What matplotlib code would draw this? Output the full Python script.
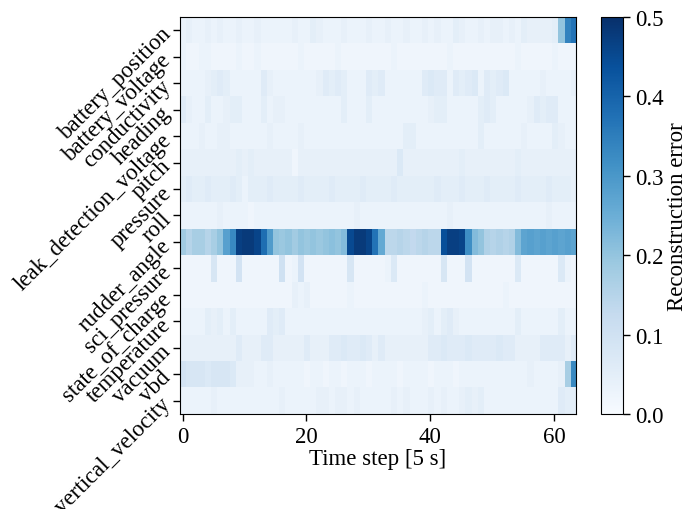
import matplotlib
matplotlib.use('Agg')
import matplotlib.pyplot as plt
import numpy as np

plt.rcParams['font.family'] = 'serif'
plt.rcParams['font.serif'] = ['Liberation Serif', 'DejaVu Serif']
plt.rcParams['font.size'] = 16.5

variables = [
    'battery_position', 'battery_voltage', 'conductivity', 'heading',
    'leak_detection_voltage', 'pitch', 'pressure', 'roll', 'rudder_angle',
    'sci_pressure', 'state_of_charge', 'temperature', 'vacuum', 'vbd',
    'vertical_velocity',
]

# reconstruction error per variable, one value per 5 s time step (64 steps)
battery_position = [
    0.03, 0.04, 0.03, 0.03, 0.04, 0.03, 0.04, 0.03, 0.03, 0.04, 0.03, 0.03, 0.04, 0.03, 0.03, 0.03,
    0.03, 0.03, 0.04, 0.03, 0.03, 0.05, 0.04, 0.03, 0.03, 0.03, 0.04, 0.03, 0.03, 0.03, 0.04, 0.03,
    0.03, 0.04, 0.03, 0.03, 0.04, 0.03, 0.03, 0.04, 0.03, 0.04, 0.03, 0.03, 0.05, 0.04, 0.03, 0.03,
    0.04, 0.03, 0.04, 0.04, 0.03, 0.04, 0.03, 0.05, 0.04, 0.04, 0.04, 0.04, 0.05, 0.20, 0.34, 0.37,
]
battery_voltage = [
    0.03, 0.02, 0.02, 0.03, 0.03, 0.02, 0.02, 0.02, 0.02, 0.03, 0.02, 0.02, 0.03, 0.02, 0.02, 0.02,
    0.02, 0.02, 0.02, 0.03, 0.02, 0.02, 0.02, 0.02, 0.02, 0.03, 0.02, 0.02, 0.02, 0.02, 0.02, 0.02,
    0.02, 0.02, 0.03, 0.02, 0.02, 0.02, 0.02, 0.02, 0.02, 0.02, 0.02, 0.03, 0.02, 0.02, 0.02, 0.02,
    0.02, 0.02, 0.02, 0.02, 0.02, 0.02, 0.03, 0.02, 0.02, 0.02, 0.02, 0.02, 0.03, 0.02, 0.02, 0.02,
]
conductivity = [
    0.03, 0.03, 0.03, 0.03, 0.04, 0.05, 0.06, 0.05, 0.03, 0.03, 0.03, 0.03, 0.03, 0.06, 0.04, 0.03,
    0.03, 0.03, 0.03, 0.03, 0.03, 0.03, 0.04, 0.06, 0.05, 0.06, 0.05, 0.03, 0.03, 0.03, 0.06, 0.05,
    0.06, 0.03, 0.03, 0.03, 0.03, 0.03, 0.03, 0.06, 0.07, 0.06, 0.06, 0.03, 0.06, 0.05, 0.06, 0.07,
    0.03, 0.06, 0.05, 0.06, 0.07, 0.03, 0.03, 0.03, 0.03, 0.03, 0.04, 0.03, 0.03, 0.03, 0.03, 0.04,
]
heading = [
    0.06, 0.04, 0.03, 0.03, 0.05, 0.03, 0.03, 0.04, 0.05, 0.05, 0.03, 0.03, 0.03, 0.05, 0.03, 0.04,
    0.04, 0.03, 0.03, 0.03, 0.03, 0.03, 0.03, 0.03, 0.03, 0.03, 0.05, 0.03, 0.03, 0.03, 0.05, 0.03,
    0.03, 0.03, 0.03, 0.03, 0.03, 0.03, 0.03, 0.03, 0.04, 0.05, 0.05, 0.03, 0.03, 0.03, 0.03, 0.03,
    0.05, 0.06, 0.05, 0.03, 0.03, 0.03, 0.03, 0.03, 0.04, 0.06, 0.05, 0.06, 0.06, 0.03, 0.03, 0.03,
]
leak_detection_voltage = [
    0.03, 0.03, 0.03, 0.04, 0.03, 0.03, 0.04, 0.04, 0.03, 0.03, 0.03, 0.03, 0.03, 0.03, 0.04, 0.03,
    0.03, 0.03, 0.03, 0.04, 0.03, 0.03, 0.03, 0.03, 0.03, 0.03, 0.03, 0.03, 0.03, 0.03, 0.03, 0.03,
    0.03, 0.03, 0.03, 0.03, 0.05, 0.05, 0.03, 0.03, 0.03, 0.03, 0.03, 0.03, 0.03, 0.03, 0.03, 0.03,
    0.05, 0.03, 0.03, 0.03, 0.03, 0.03, 0.03, 0.04, 0.03, 0.03, 0.03, 0.03, 0.05, 0.04, 0.03, 0.03,
]
pitch = [
    0.04, 0.04, 0.04, 0.04, 0.04, 0.04, 0.04, 0.04, 0.04, 0.05, 0.04, 0.05, 0.04, 0.04, 0.04, 0.04,
    0.04, 0.04, 0.02, 0.04, 0.04, 0.04, 0.04, 0.04, 0.04, 0.04, 0.04, 0.04, 0.04, 0.04, 0.04, 0.04,
    0.04, 0.04, 0.04, 0.07, 0.04, 0.04, 0.04, 0.04, 0.04, 0.04, 0.04, 0.04, 0.04, 0.05, 0.04, 0.04,
    0.04, 0.04, 0.04, 0.04, 0.04, 0.04, 0.05, 0.04, 0.04, 0.04, 0.04, 0.04, 0.04, 0.04, 0.04, 0.04,
]
pressure = [
    0.05, 0.06, 0.05, 0.05, 0.06, 0.05, 0.05, 0.05, 0.06, 0.05, 0.03, 0.05, 0.05, 0.05, 0.06, 0.05,
    0.05, 0.05, 0.05, 0.06, 0.05, 0.05, 0.05, 0.05, 0.06, 0.05, 0.05, 0.05, 0.05, 0.06, 0.05, 0.05,
    0.05, 0.05, 0.06, 0.05, 0.05, 0.05, 0.05, 0.05, 0.05, 0.06, 0.05, 0.05, 0.05, 0.06, 0.05, 0.05,
    0.05, 0.06, 0.05, 0.05, 0.05, 0.05, 0.06, 0.05, 0.05, 0.05, 0.05, 0.06, 0.05, 0.05, 0.05, 0.04,
]
roll = [
    0.03, 0.03, 0.03, 0.03, 0.03, 0.03, 0.04, 0.03, 0.03, 0.03, 0.03, 0.02, 0.03, 0.03, 0.03, 0.03,
    0.03, 0.03, 0.03, 0.03, 0.03, 0.03, 0.03, 0.03, 0.03, 0.03, 0.03, 0.03, 0.04, 0.03, 0.03, 0.03,
    0.03, 0.03, 0.03, 0.03, 0.03, 0.03, 0.03, 0.03, 0.03, 0.03, 0.03, 0.04, 0.03, 0.03, 0.03, 0.03,
    0.03, 0.03, 0.03, 0.03, 0.03, 0.03, 0.03, 0.03, 0.03, 0.03, 0.03, 0.04, 0.03, 0.03, 0.03, 0.03,
]
rudder_angle = [
    0.18, 0.15, 0.17, 0.17, 0.15, 0.17, 0.20, 0.28, 0.33, 0.47, 0.48, 0.48, 0.46, 0.38, 0.29, 0.20,
    0.19, 0.20, 0.18, 0.20, 0.19, 0.20, 0.19, 0.20, 0.21, 0.20, 0.22, 0.45, 0.48, 0.48, 0.46, 0.37,
    0.26, 0.14, 0.14, 0.15, 0.14, 0.13, 0.14, 0.15, 0.14, 0.14, 0.44, 0.47, 0.47, 0.46, 0.32, 0.22,
    0.20, 0.16, 0.15, 0.16, 0.15, 0.16, 0.22, 0.27, 0.28, 0.27, 0.28, 0.27, 0.28, 0.27, 0.28, 0.27,
]
sci_pressure = [
    0.02, 0.02, 0.02, 0.02, 0.02, 0.08, 0.02, 0.02, 0.02, 0.09, 0.02, 0.02, 0.02, 0.02, 0.02, 0.02,
    0.10, 0.02, 0.03, 0.09, 0.02, 0.02, 0.02, 0.02, 0.02, 0.02, 0.02, 0.08, 0.02, 0.02, 0.02, 0.02,
    0.02, 0.03, 0.07, 0.02, 0.02, 0.02, 0.02, 0.02, 0.02, 0.02, 0.08, 0.02, 0.02, 0.02, 0.09, 0.02,
    0.02, 0.02, 0.02, 0.02, 0.02, 0.02, 0.07, 0.02, 0.02, 0.02, 0.02, 0.02, 0.02, 0.07, 0.03, 0.02,
]
state_of_charge = [
    0.02, 0.02, 0.02, 0.02, 0.02, 0.02, 0.02, 0.02, 0.02, 0.02, 0.02, 0.02, 0.02, 0.02, 0.02, 0.02,
    0.02, 0.02, 0.04, 0.03, 0.04, 0.02, 0.02, 0.02, 0.02, 0.02, 0.02, 0.03, 0.02, 0.02, 0.02, 0.02,
    0.02, 0.02, 0.02, 0.02, 0.02, 0.02, 0.02, 0.03, 0.02, 0.02, 0.02, 0.02, 0.02, 0.02, 0.02, 0.02,
    0.02, 0.02, 0.02, 0.02, 0.03, 0.02, 0.02, 0.02, 0.02, 0.02, 0.02, 0.02, 0.02, 0.02, 0.02, 0.02,
]
temperature = [
    0.03, 0.03, 0.03, 0.03, 0.05, 0.04, 0.05, 0.03, 0.05, 0.03, 0.03, 0.03, 0.03, 0.03, 0.06, 0.05,
    0.06, 0.03, 0.03, 0.03, 0.03, 0.03, 0.03, 0.03, 0.03, 0.03, 0.03, 0.03, 0.03, 0.03, 0.03, 0.03,
    0.03, 0.03, 0.03, 0.03, 0.03, 0.03, 0.03, 0.04, 0.05, 0.03, 0.05, 0.06, 0.04, 0.03, 0.03, 0.03,
    0.03, 0.03, 0.03, 0.03, 0.03, 0.03, 0.05, 0.03, 0.03, 0.03, 0.03, 0.03, 0.03, 0.05, 0.03, 0.03,
]
vacuum = [
    0.04, 0.04, 0.04, 0.04, 0.04, 0.04, 0.04, 0.04, 0.04, 0.06, 0.04, 0.04, 0.04, 0.06, 0.06, 0.04,
    0.04, 0.04, 0.04, 0.04, 0.06, 0.04, 0.04, 0.04, 0.06, 0.06, 0.07, 0.06, 0.06, 0.07, 0.06, 0.04,
    0.06, 0.04, 0.04, 0.04, 0.04, 0.04, 0.04, 0.04, 0.06, 0.06, 0.07, 0.06, 0.06, 0.06, 0.07, 0.06,
    0.06, 0.06, 0.06, 0.07, 0.06, 0.06, 0.04, 0.04, 0.04, 0.04, 0.06, 0.06, 0.06, 0.06, 0.04, 0.06,
]
vbd = [
    0.09, 0.08, 0.08, 0.08, 0.07, 0.08, 0.08, 0.08, 0.07, 0.04, 0.04, 0.04, 0.03, 0.03, 0.04, 0.03,
    0.03, 0.03, 0.03, 0.03, 0.02, 0.03, 0.03, 0.02, 0.03, 0.03, 0.02, 0.03, 0.03, 0.03, 0.02, 0.03,
    0.03, 0.03, 0.03, 0.02, 0.03, 0.03, 0.03, 0.03, 0.02, 0.03, 0.03, 0.03, 0.02, 0.03, 0.03, 0.03,
    0.03, 0.03, 0.03, 0.03, 0.03, 0.03, 0.03, 0.03, 0.04, 0.03, 0.03, 0.03, 0.03, 0.04, 0.17, 0.33,
]
vertical_velocity = [
    0.03, 0.03, 0.03, 0.03, 0.03, 0.04, 0.03, 0.03, 0.03, 0.03, 0.03, 0.03, 0.03, 0.03, 0.03, 0.03,
    0.04, 0.03, 0.03, 0.03, 0.03, 0.03, 0.04, 0.04, 0.03, 0.04, 0.04, 0.03, 0.04, 0.03, 0.03, 0.03,
    0.03, 0.03, 0.04, 0.03, 0.04, 0.03, 0.03, 0.03, 0.04, 0.03, 0.04, 0.03, 0.03, 0.04, 0.05, 0.04,
    0.05, 0.03, 0.03, 0.03, 0.03, 0.03, 0.03, 0.03, 0.03, 0.03, 0.03, 0.03, 0.03, 0.06, 0.05, 0.05,
]

errors = np.array([
    battery_position, battery_voltage, conductivity, heading,
    leak_detection_voltage, pitch, pressure, roll, rudder_angle,
    sci_pressure, state_of_charge, temperature, vacuum, vbd,
    vertical_velocity,
])

fig = plt.figure(figsize=(6.87, 5.10), dpi=100)
ax = fig.add_axes([0.2614, 0.1863, 0.5767, 0.7784])
cax = fig.add_axes([0.8744, 0.1863, 0.032, 0.7784])

im = ax.imshow(errors, cmap='Blues', vmin=0.0, vmax=0.5, aspect='auto',
               interpolation='nearest')

ax.set_xticks([0, 20, 40, 60])
ax.set_yticks(np.arange(len(variables)))
ax.set_yticklabels(variables, rotation=45, ha='right', va='center',
                   rotation_mode='anchor')
ax.tick_params(axis='both', length=5, width=1, pad=3.5)
ax.set_xlabel('Time step [5 s]', labelpad=1)

cbar = fig.colorbar(im, cax=cax, ticks=[0.0, 0.1, 0.2, 0.3, 0.4, 0.5])
cbar.ax.set_yticklabels(['0.0', '0.1', '0.2', '0.3', '0.4', '0.5'])
cbar.ax.tick_params(length=5, width=1, pad=4)
cbar.set_label('Reconstruction error', labelpad=2)

fig.savefig('out.png', dpi=100)
